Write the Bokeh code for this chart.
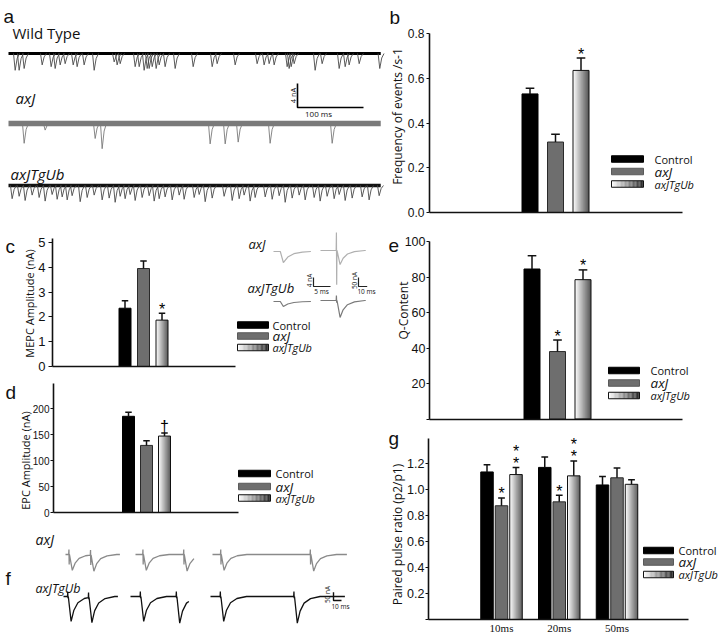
import numpy as np
from bokeh.plotting import figure
from bokeh.models import Range1d, Label, FixedTicker, LinearAxis
from bokeh.layouts import row, column
from bokeh.embed import file_html
from bokeh.resources import INLINE
from bokeh.core.properties import value

# ---------------- data ----------------
groups = ["Control", "axJ", "axJTgUb"]

freq_ticks = [0.0, 0.2, 0.4, 0.6, 0.8]
freq_tick_labels = ["0.0", "0.2", "0.4", "0.6", "0.8"]
freq_mean = [0.53, 0.315, 0.635]
freq_err = [0.025, 0.035, 0.055]
freq_sig = ["", "", "*"]

mepc_ticks = [0, 1, 2, 3, 4, 5]
mepc_tick_labels = ["0", "1", "2", "3", "4", "5"]
mepc_mean = [2.35, 3.95, 1.87]
mepc_err = [0.30, 0.30, 0.28]
mepc_sig = ["", "", "*"]

epc_ticks = [0, 50, 100, 150, 200]
epc_tick_labels = ["0", "50", "100", "150", "200"]
epc_mean = [185, 129, 147]
epc_err = [8, 9, 6]
epc_sig = ["", "", "\u2020"]

qc_ticks = [0, 20, 40, 60, 80, 100]
qc_tick_labels = ["", "20", "40", "60", "80", "100"]
qc_mean = [84.5, 38.0, 78.5]
qc_err = [7.5, 6.5, 5.5]
qc_sig = ["", "*", "*"]

ppr_intervals = ["10ms", "20ms", "50ms"]
ppr_ticks = [0.0, 0.2, 0.4, 0.6, 0.8, 1.0, 1.2]
ppr_tick_labels = ["", "0.2", "0.4", "0.6", "0.8", "1.0", "1.2"]
ppr_control = [1.135, 1.17, 1.035]
ppr_control_err = [0.055, 0.08, 0.065]
ppr_axj = [0.875, 0.905, 1.09]
ppr_axj_err = [0.06, 0.05, 0.075]
ppr_tgub = [1.115, 1.105, 1.04]
ppr_tgub_err = [0.055, 0.115, 0.035]
ppr_sig_control = ["", "", ""]
ppr_sig_axj = ["*", "*", ""]
ppr_sig_tgub = ["**", "**", ""]

# panel a: spontaneous MEPC events (time ms, amplitude nA)
trace_duration_ms = 564
scale_a_ms = 100
scale_a_nA = 4
wt_event_ms = [7.6, 13.6, 21.2, 48.5, 62.1, 68.2, 75.8, 83.3, 95.5, 101.5, 112.1, 127.3, 157.6,
               162.1, 166.7, 189.4, 195.5, 203.0, 207.6, 210.6, 215.2, 221.2, 225.8, 234.8, 250.0,
               277.3, 306.1, 313.6, 340.9, 374.2, 384.8, 392.4, 400.0, 419.7, 422.7, 425.8, 430.3,
               462.1, 472.7, 498.5, 507.6, 513.6, 528.8, 560.0]
wt_event_nA = [2.8, 2.8, 2.5, 1.9, 2.2, 2.5, 1.9, 1.7, 1.9, 2.2, 1.9, 2.8, 1.4,
               1.9, 1.7, 2.2, 2.2, 2.8, 2.5, 2.5, 2.2, 2.5, 1.9, 2.2, 2.5,
               2.2, 2.2, 1.7, 1.9, 1.7, 1.9, 1.7, 1.9, 2.2, 2.5, 2.2, 1.7,
               2.8, 1.7, 2.5, 2.2, 1.9, 1.7, 2.5]
axj_event_ms = [21.2, 53.0, 128.8, 139.4, 303.0, 325.8, 345.5, 393.9, 487.9]
axj_event_nA = [3.3, 1.1, 2.5, 4.2, 3.4, 3.4, 3.1, 3.3, 3.3]
tgub_event_ms = [3.0, 13.6, 22.7, 33.3, 43.9, 53.0, 63.6, 71.2, 78.8, 86.4, 93.9, 106.1, 116.7,
                 127.3, 139.4, 150.0, 159.1, 166.7, 174.2, 181.8, 189.4, 200.0, 210.6, 218.2,
                 225.8, 234.8, 245.5, 256.1, 263.6, 278.8, 286.4, 295.5, 306.1, 324.2, 336.4,
                 347.0, 354.5, 363.6, 371.2, 386.4, 397.0, 407.6, 416.7, 427.3, 437.9, 447.0,
                 460.6, 469.7, 480.3, 490.9, 498.5, 507.6, 518.2, 533.3, 543.9, 559.1]
tgub_event_nA = [2.2, 1.8, 2.5, 1.6, 2.0, 2.6, 1.5, 2.3, 1.9, 2.4, 1.7, 2.7, 2.0,
                 1.6, 2.4, 2.1, 2.8, 1.8, 2.2, 1.5, 2.5, 2.0, 1.7, 2.6,
                 2.2, 1.9, 2.4, 1.6, 2.3, 2.0, 1.5, 2.7, 2.1, 1.8, 2.5,
                 2.2, 1.6, 2.6, 2.0, 1.9, 2.3, 1.7, 2.8, 2.1, 1.6, 2.4,
                 2.0, 2.6, 1.8, 2.2, 1.5, 2.5, 2.1, 1.9, 2.4, 1.7]

# panel c inset: sample MEPC / EPC traces (axJ, axJTgUb)
inset_mepc_len_ms = 11
inset_mepc_onset_ms = 2.0
inset_mepc_nA = [4.9, 2.2]
inset_epc_len_ms = 52
inset_epc_stim_ms = 18
inset_epc_nA = [78, 94]
inset_art_up_nA = [100, 28]
inset_art_down_nA = [190, 12]
inset_scale_mepc = (5, 4)     # ms, nA
inset_scale_epc = (10, 50)    # ms, nA

# panel f: paired-pulse sweeps
f_sweep_len_ms = [68, 73, 168]
f_axj_pulses_ms = [[4, 31], [9, 60], [10, 122]]
f_tgub_pulses_ms = [[5, 31], [12, 57], [12, 104]]
f_axj_epc_nA = [[95, 100], [95, 100], [95, 100]]
f_tgub_epc_nA = [[150, 155], [150, 160], [150, 160]]
f_art_up_nA = [30, 30]
f_art_down_nA = [60, 10]
scale_f = (10, 50)  # ms, nA

# ---------------- layout helpers (positions in page pixels) ----------------
INK = "#111111"


class Pan:
    """One figure whose frame fills its whole box; page-pixel <-> data helpers."""

    def __init__(self, box, xa, xb, ya, yb):
        x0, y0, x1, y1 = box
        self.box = box
        self.xa, self.ya = xa, ya
        self.kx = (xb[0] - xa[0]) / (xb[1] - xa[1])
        self.ky = (yb[0] - ya[0]) / (yb[1] - ya[1])
        self.p = figure(
            width=x1 - x0, height=y1 - y0,
            x_range=Range1d(self.dx(x0), self.dx(x1)),
            y_range=Range1d(self.dy(y1), self.dy(y0)),
            min_border_left=0, min_border_right=0, min_border_top=0, min_border_bottom=0,
            x_axis_location=None, y_axis_location=None,
            output_backend="svg", toolbar_location=None, title=None,
        )
        self.p.outline_line_color = None
        self.p.grid.visible = False
        self.p.background_fill_color = "white"
        self.p.border_fill_color = "white"

    def dx(self, px):
        return self.xa[0] + (px - self.xa[1]) * self.kx

    def dy(self, py):
        return self.ya[0] + (py - self.ya[1]) * self.ky

    def lx(self, n):
        return n * abs(self.kx)

    def ly(self, n):
        return n * abs(self.ky)

    def extra(self, name, x0ref, ppx, y0ref, ppy):
        x0, y0, x1, y1 = self.box
        self.p.extra_x_ranges[name] = Range1d((x0 - x0ref) / ppx, (x1 - x0ref) / ppx)
        self.p.extra_y_ranges[name] = Range1d((y0ref - y1) / ppy, (y0ref - y0) / ppy)

    def label(self, x, y, text, size, font="Open Sans", style="normal", align="left",
              baseline="middle", color=INK, angle=0.0):
        self.p.add_layout(Label(x=self.dx(x), y=self.dy(y), text=text, text_font=font,
                                text_font_size=f"{size}px", text_font_style=style,
                                text_align=align, text_baseline=baseline,
                                text_color=color, angle=angle))

    def letter(self, x, y, text):
        self.label(x, y, text, 19, font="Liberation Sans", baseline="alphabetic", color="#111111")


def add_yaxis(pan, x_ref, ticks, labels, bounds, tick_size, tick_out=3, lstand=2):
    ax = LinearAxis(fixed_location=pan.dx(x_ref), ticker=FixedTicker(ticks=ticks),
                    major_label_overrides={t: s for t, s in zip(ticks, labels)},
                    bounds=bounds)
    ax.major_label_text_font = "Liberation Sans"
    ax.major_label_text_font_size = f"{tick_size}px"
    ax.major_label_text_color = INK
    ax.major_label_standoff = lstand
    ax.major_tick_out = tick_out
    ax.major_tick_in = 0
    ax.minor_tick_out = 0
    ax.minor_tick_in = 0
    ax.axis_line_width = 1.6
    ax.axis_line_color = INK
    ax.major_tick_line_width = 1.2
    ax.major_tick_line_color = INK
    pan.p.add_layout(ax, "left")


def add_xaxis(pan, x0_ref, x1_ref, ticks=None, labels=None, size=11):
    ticks = ticks or []
    ax = LinearAxis(fixed_location=0, ticker=FixedTicker(ticks=ticks),
                    bounds=(pan.dx(x0_ref), pan.dx(x1_ref)))
    if labels:
        ax.major_label_overrides = {t: s for t, s in zip(ticks, labels)}
    ax.axis_line_width = 1.6
    ax.axis_line_color = INK
    ax.major_tick_line_color = None
    ax.major_tick_out = 0
    ax.major_tick_in = 0
    ax.minor_tick_out = 0
    ax.minor_tick_in = 0
    ax.major_label_standoff = 2
    ax.major_label_text_font = "Liberation Serif"
    ax.major_label_text_font_size = f"{size}px"
    ax.major_label_text_color = INK
    pan.p.add_layout(ax, "below")


def gray(v):
    v = int(round(v))
    return "#%02x%02x%02x" % (v, v, v)


def gradient_rect(p, l, r, b, t, n=24):
    edges = np.linspace(l, r, n + 1)
    shades = np.linspace(252, 40, n)
    p.quad(left=list(edges[:-1]), right=list(edges[1:]), bottom=b, top=t,
           fill_color=[gray(s) for s in shades], line_color=None)
    p.quad(left=[l], right=[r], bottom=[b], top=[t], fill_color=None,
           line_color="#111111", line_width=1)


def draw_series(pan, xs, means, errs, sigs, width, kind, star_size=16):
    p = pan.p
    half = width / 2
    if kind == 0:
        p.vbar(x=xs, top=means, bottom=0, width=width, fill_color="#000000", line_color="#000000")
    elif kind == 1:
        p.vbar(x=xs, top=means, bottom=0, width=width, fill_color="#6e6e6e", line_color="#2a2a2a")
    else:
        for x, m in zip(xs, means):
            gradient_rect(p, x - half, x + half, 0, m)
    tops = [m + e for m, e in zip(means, errs)]
    p.segment(x0=xs, y0=means, x1=xs, y1=tops, line_color=INK, line_width=1.5)
    cap = width * 0.27
    p.segment(x0=[x - cap for x in xs], y0=tops, x1=[x + cap for x in xs], y1=tops,
              line_color=INK, line_width=1.5)
    sx, sy, st = [], [], []
    for x, top, s in zip(xs, tops, sigs):
        for k, ch in enumerate(s):
            sx.append(x)
            sy.append(top + pan.ly(4 + 12 * k + (2 if ch == "\u2020" else 0)))
            st.append(ch)
    if sx:
        p.text(x=sx, y=sy, text=st, text_font=value("Liberation Sans"),
               text_font_size=f"{star_size}px", text_align="center",
               text_baseline="alphabetic", text_color="#000000")


def draw_legend(pan, rl, rr, rows, lx, rh=6.5, sizes=(11, 13.5, 11)):
    p = pan.p
    for i, (g, yc) in enumerate(zip(groups, rows)):
        l, r = pan.dx(rl), pan.dx(rr)
        b, t = pan.dy(yc + rh / 2), pan.dy(yc - rh / 2)
        if i == 0:
            p.quad(left=[l], right=[r], bottom=[b], top=[t], fill_color="#000000", line_color="#000000")
        elif i == 1:
            p.quad(left=[l], right=[r], bottom=[b], top=[t], fill_color="#6e6e6e", line_color="#5a5a5a")
        else:
            gradient_rect(p, l, r, b, t)
        pan.label(lx, yc, g, sizes[i], style="normal" if i == 0 else "italic")


def template(t, knots, fracs):
    return np.interp(t, knots, fracs, left=0.0, right=0.0)


# ---------------- panel a ----------------
pa = Pan((0, 0, 386, 215), (0, 8), (scale_a_ms, 8 + 66), (0, 215), (1, 209))
mepc_knots = [0, 2.5, 5.5, 9]
mepc_fracs = [0, -1, -0.3, 0]
rows_a = [(wt_event_ms, wt_event_nA, 53, "#000000", 3.2, "#4a4a4a"),
          (axj_event_ms, axj_event_nA, 123, "#7a7a7a", 5.5, "#7a7a7a"),
          (tgub_event_ms, tgub_event_nA, 185, "#111111", 3.5, "#4a4a4a")]
for times, amps, yref, bcol, bw, scol in rows_a:
    base = pa.dy(yref)
    pa.p.line([0, trace_duration_ms], [base, base], line_color=bcol, line_width=bw)
    xs = [[t + k for k in mepc_knots] for t in times]
    ys = [[base + f * a for f in mepc_fracs] for a in amps]
    pa.p.multi_line(xs, ys, line_color=scol, line_width=0.9)
cx, cy = pa.dx(297), pa.dy(107)
pa.p.line([cx, cx, cx + scale_a_ms], [cy + scale_a_nA, cy, cy], line_color="#000000", line_width=1.6)
pa.label(292, 95, f"{scale_a_nA} nA", 7.5, align="center", angle=np.pi / 2)
pa.label(318, 113, f"{scale_a_ms} ms", 8, align="center")
pa.letter(3, 16, "a")
pa.label(12, 32, "Wild Type", 15)
pa.label(15, 97, "axJ", 15, style="italic")
pa.label(10, 173, "axJTgUb", 15, style="italic")

# ---------------- panel c ----------------
pc = Pan((0, 215, 386, 374), (0, 143), (1, 161.5), (0, 366), (5, 242))
add_yaxis(pc, 52, mepc_ticks, mepc_tick_labels, (0, 5.15), 13, tick_out=4, lstand=3)
add_xaxis(pc, 52, 235)
for k in range(3):
    draw_series(pc, [k - 1], [mepc_mean[k]], [mepc_err[k]], [mepc_sig[k]], pc.lx(12), k)
draw_legend(pc, 237, 268, [324.5, 335.5, 347], 272)
pc.letter(5, 246, "c")
pc.label(29, 303, "MEPC Amplitude (nA)", 11, align="center", angle=np.pi / 2)
# inset traces
pc.extra("mx", 273, 3.4, 251, 2.25)
pc.extra("ex", 320, 0.87, 250, 0.18)
ins_cols = ["#b0b0b0", "#7a7a7a"]
mepc_ins_knots = [0, 0.9, 2.2, 4, 6.5, 9]
mepc_ins_fracs = [0, -1, -0.5, -0.2, -0.05, 0]
art_knots = [0, 0.3, 0.6, 0.9]
dip_knots = [0, 3.5, 7, 12, 20, 32]
dip_fracs = [0, -1, -0.55, -0.25, -0.08, 0]
for i, (yref_m, yref_e) in enumerate([(251, 250), (301, 300)]):
    bm = (251 - yref_m) / 2.25
    t = np.array(sorted(set([0, inset_mepc_len_ms] + [inset_mepc_onset_ms + k for k in mepc_ins_knots])))
    y = bm + inset_mepc_nA[i] * template(t - inset_mepc_onset_ms, mepc_ins_knots, mepc_ins_fracs)
    pc.p.line(list(t), list(y), x_range_name="mx", y_range_name="mx", line_color=ins_cols[i], line_width=1.2)
    be = (250 - yref_e) / 0.18
    s = inset_epc_stim_ms
    t = np.array(sorted(set([0, inset_epc_len_ms] + [s + k for k in art_knots] + [s + 1 + k for k in dip_knots])))
    y = (be + inset_art_up_nA[i] * template(t - s, art_knots, [0, 1, 0, 0])
         - inset_art_down_nA[i] * template(t - s, art_knots, [0, 0, 1, 0])
         + inset_epc_nA[i] * template(t - s - 1, dip_knots, dip_fracs))
    pc.p.line(list(t), list(y), x_range_name="ex", y_range_name="ex", line_color=ins_cols[i], line_width=1.2)
mx0, my0 = (313 - 273) / 3.4, (251 - 286) / 2.25
pc.p.line([mx0, mx0, mx0 + inset_scale_mepc[0]], [my0 + inset_scale_mepc[1], my0, my0],
          x_range_name="mx", y_range_name="mx", line_color="#222222", line_width=1.2)
ex0, ey0 = (358 - 320) / 0.87, (250 - 286) / 0.18
pc.p.line([ex0, ex0, ex0 + inset_scale_epc[0]], [ey0 + inset_scale_epc[1], ey0, ey0],
          x_range_name="ex", y_range_name="ex", line_color="#222222", line_width=1.2)
pc.label(308.5, 280, f"{inset_scale_mepc[1]} nA", 6.5, align="center", angle=np.pi / 2)
pc.label(321, 291, f"{inset_scale_mepc[0]} ms", 6.5, align="center")
pc.label(353.5, 280, f"{inset_scale_epc[1]} nA", 6.5, align="center", angle=np.pi / 2)
pc.label(366, 291, f"{inset_scale_epc[0]} ms", 6.5, align="center")
pc.label(248, 243, "axJ", 13, style="italic")
pc.label(247, 287, "axJTgUb", 13, style="italic")

# ---------------- panel d ----------------
pd_ = Pan((0, 374, 386, 528), (0, 146), (1, 164), (0, 512), (200, 408))
add_yaxis(pd_, 53, epc_ticks, epc_tick_labels, (0, 248), 10, tick_out=3, lstand=1)
add_xaxis(pd_, 53, 238)
for k in range(3):
    draw_series(pd_, [k - 1], [epc_mean[k]], [epc_err[k]], [epc_sig[k]], pd_.lx(12), k)
draw_legend(pd_, 238, 270, [473, 486, 497.5], 275)
pd_.letter(5, 392, "d")
pd_.label(25, 460, "EPC Amplitude (nA)", 11, align="center", angle=np.pi / 2)

# ---------------- panel f ----------------
pf = Pan((0, 528, 386, 633), (0, 65), (scale_f[0], 73), (0, 554), (scale_f[1], 545.7))
rows_f = [(f_axj_pulses_ms, f_axj_epc_nA, [65, 135, 212], 554, "#8a8a8a", 0),
          (f_tgub_pulses_ms, f_tgub_epc_nA, [63, 130, 210], 596, "#111111", 1)]
for pulses, amps, starts, yref, col, idx in rows_f:
    base = pf.dy(yref)
    for sw in range(3):
        t0 = pf.dx(starts[sw])
        knots = [0, f_sweep_len_ms[sw]]
        for tp in pulses[sw]:
            knots += [tp + k for k in art_knots] + [tp + 1 + k for k in dip_knots]
        t = np.array(sorted(set(k for k in knots if 0 <= k <= f_sweep_len_ms[sw])))
        y = np.full(len(t), base)
        for tp, a in zip(pulses[sw], amps[sw]):
            y = (y + f_art_up_nA[idx] * template(t - tp, art_knots, [0, 1, 0, 0])
                 - f_art_down_nA[idx] * template(t - tp, art_knots, [0, 0, 1, 0])
                 + a * template(t - tp - 1, dip_knots, dip_fracs))
        pf.p.line(list(t + t0), list(y), line_color=col, line_width=1.3)
fx0, fy0 = pf.dx(333), pf.dy(600)
pf.p.line([fx0, fx0, fx0 + scale_f[0]], [fy0 + scale_f[1], fy0, fy0], line_color="#111111", line_width=1.4)
pf.label(327, 594, f"{scale_f[1]} nA", 6.5, align="center", angle=np.pi / 2)
pf.label(340, 606, f"{scale_f[0]} ms", 6.5, align="center")
pf.letter(5, 578, "f")
pf.label(35, 539, "axJ", 14, style="italic")
pf.label(35, 588, "axJTgUb", 12.5, style="italic")

# ---------------- panel b ----------------
pb = Pan((386, 0, 720, 222), (0, 555), (1, 580.5), (0, 212), (0.8, 33))
add_yaxis(pb, 429, freq_ticks, freq_tick_labels, (0, 0.8), 12, tick_out=3, lstand=2)
add_xaxis(pb, 429, 682)
for k in range(3):
    draw_series(pb, [k - 1], [freq_mean[k]], [freq_err[k]], [freq_sig[k]], pb.lx(16), k)
draw_legend(pb, 611, 643, [158.5, 171, 183.5], 654)
pb.letter(389, 17, "b")
pb.label(397, 116, "Frequency of events /s-1", 12, align="center", angle=np.pi / 2)

# ---------------- panel e ----------------
pe = Pan((386, 222, 720, 426), (0, 557), (1, 582.5), (0, 418.5), (100, 241))
add_yaxis(pe, 429, qc_ticks, qc_tick_labels, (0, 100), 12.5, tick_out=3, lstand=1)
add_xaxis(pe, 429, 682)
for k in range(3):
    draw_series(pe, [k - 1], [qc_mean[k]], [qc_err[k]], [qc_sig[k]], pe.lx(16), k)
draw_legend(pe, 608, 639, [370, 382.5, 395], 650)
pe.letter(388, 245, "e")
pe.label(403, 310, "Q-Content", 12, align="center", angle=np.pi / 2)

# ---------------- panel g ----------------
pg = Pan((386, 426, 720, 633), (0, 501), (2, 616.5), (0, 619), (1.2, 463))
add_yaxis(pg, 428, ppr_ticks, ppr_tick_labels, (0, 1.39), 12.5, tick_out=3, lstand=1)
add_xaxis(pg, 428, 688, ticks=[0, 1, 2], labels=ppr_intervals, size=11)
step_g = pg.lx(14.5)
series_g = [(ppr_control, ppr_control_err, ppr_sig_control),
            (ppr_axj, ppr_axj_err, ppr_sig_axj),
            (ppr_tgub, ppr_tgub_err, ppr_sig_tgub)]
for k, (m, e, s) in enumerate(series_g):
    xs = [g + (k - 1) * step_g for g in range(len(ppr_intervals))]
    draw_series(pg, xs, m, e, s, pg.lx(12.5), k)
draw_legend(pg, 643, 673, [550, 561.5, 574], 678)
pg.letter(388, 438, "g")
pg.label(397, 534, "Paired pulse ratio (p2/p1)", 12, align="center", angle=np.pi / 2)

layout = row(column(pa.p, pc.p, pd_.p, pf.p), column(pb.p, pe.p, pg.p))
open("out.html", "w").write(file_html(layout, INLINE))
